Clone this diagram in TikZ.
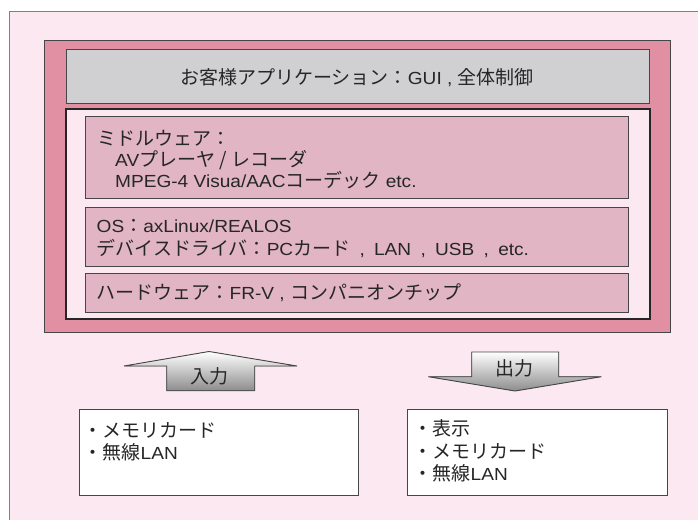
\documentclass[tikz,border=0pt]{standalone}
\usepackage{fontspec}
\setmainfont[FakeStretch=1.09]{Liberation Sans}
\newfontfamily\jpfont{Noto Sans CJK JP}
\newcommand\J[1]{{\jpfont\fontsize{19}{22}\selectfont #1}}
\newcommand\sepcomma{\ \kern4pt,\ \kern4pt}
\definecolor{bgpink}{RGB}{252,232,240}
\definecolor{framepink}{RGB}{224,144,162}
\definecolor{appgray}{RGB}{208,208,210}
\definecolor{layerpink}{RGB}{225,181,196}
\definecolor{edgegray}{RGB}{70,70,70}
\begin{document}
\begin{tikzpicture}[x=1pt,y=-1pt,
  txt/.style={inner sep=0pt, font=\fontsize{17.5}{20}\selectfont, anchor=base west, text=black!85},
  thinbox/.style={draw=edgegray, line width=0.9pt},
  arrowblock/.style={draw=edgegray, line width=0.9pt, top color=white, bottom color=black!45}]
\clip (0,0) rectangle (698,519);
\useasboundingbox (0,0) rectangle (698,519);
\fill[white] (0,0) rectangle (698,519);
% background panel
\filldraw[fill=bgpink, draw=gray, line width=0.9pt] (9,11) rectangle (720,540);
% pink frame
\filldraw[fill=framepink, thinbox] (44,40) rectangle (670,332);
% application box
\filldraw[fill=appgray, thinbox] (66,49) rectangle (649,103);
% inner black box
\filldraw[fill=bgpink, draw=black!85, line width=2.2pt] (66,109) rectangle (650,319);
% layers
\filldraw[fill=layerpink, thinbox] (85.5,116) rectangle (628.5,198.5);
\filldraw[fill=layerpink, thinbox] (85.5,207) rectangle (628.5,266);
\filldraw[fill=layerpink, thinbox] (85.5,273.5) rectangle (628.5,312.5);
% input / output boxes
\filldraw[fill=white, thinbox] (79,409.5) rectangle (358,495);
\filldraw[fill=white, thinbox] (407.5,409.5) rectangle (667,495);
% arrows
\filldraw[arrowblock] (124,366) -- (209,351.5) -- (297,366) -- (254.7,366) -- (254.7,390.7)
  -- (166.7,390.7) -- (166.7,366) -- cycle;
\filldraw[arrowblock] (471.7,352) -- (558.7,352) -- (558.7,376.7) -- (601.3,376.7)
  -- (515,391) -- (428.3,376.7) -- (471.7,376.7) -- cycle;
% texts
\node[txt, anchor=base] (app) at (357,84.5) {\J{お客様アプリケーション：}GUI , \J{全体制御}};
\node[txt] (mw1) at (97,145) {\J{ミドルウェア：}};
\node[txt] (mw2) at (115,166.5) {AV\J{プレーヤ / レコーダ}};
\node[txt] (mw3) at (115,187.5) {MPEG-4 Visua/AAC\J{コーデック} etc.};
\node[txt] (os1) at (96.5,232.5) {OS\J{：}axLinux/REALOS};
\node[txt] (os2) at (96.5,255.5) {\J{デバイスドライバ：}PC\J{カード}\sepcomma LAN\sepcomma USB\sepcomma etc.};
\node[txt] (hw) at (96.5,299.5) {\J{ハードウェア：}FR-V , \J{コンパニオンチップ}};
\node[txt, anchor=base] (inlabel) at (209,383) {\J{入力}};
\node[txt, anchor=base] (outlabel) at (514,375) {\J{出力}};
\node[txt] (in1) at (83.5,437) {\J{・メモリカード}};
\node[txt] (in2) at (83.5,459.5) {\J{・無線}LAN};
\node[txt] (out1) at (413.5,435.5) {\J{・表示}};
\node[txt] (out2) at (413.5,458) {\J{・メモリカード}};
\node[txt] (out3) at (413.5,480.5) {\J{・無線}LAN};
\end{tikzpicture}
\end{document}
